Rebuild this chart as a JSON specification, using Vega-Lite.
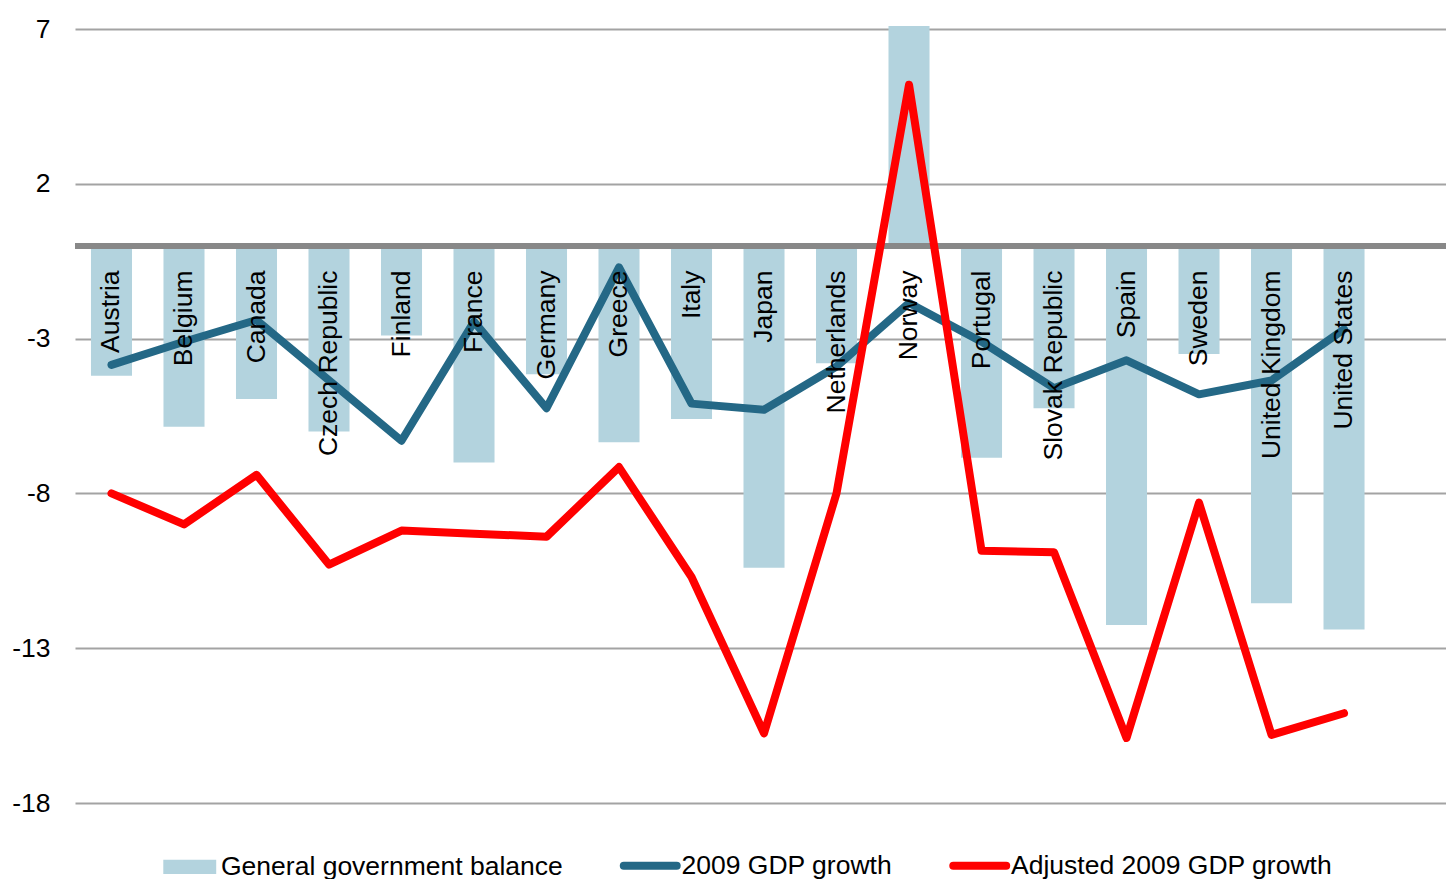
{
  "$schema": "https://vega.github.io/schema/vega-lite/v6.json",
  "width": 1371,
  "height": 774,
  "autosize": {"type": "none"},
  "padding": {"left": 75, "top": 29, "right": 0, "bottom": 76},
  "background": "white",
  "config": {"view": {"stroke": null}, "font": "Liberation Sans"},
  "data": {
    "values": [
      {"country": "Austria", "series": "General government balance", "value": -4.2},
      {"country": "Belgium", "series": "General government balance", "value": -5.85},
      {"country": "Canada", "series": "General government balance", "value": -4.95},
      {"country": "Czech Republic", "series": "General government balance", "value": -6.0},
      {"country": "Finland", "series": "General government balance", "value": -2.9},
      {"country": "France", "series": "General government balance", "value": -7.0},
      {"country": "Germany", "series": "General government balance", "value": -4.15},
      {"country": "Greece", "series": "General government balance", "value": -6.35},
      {"country": "Italy", "series": "General government balance", "value": -5.6},
      {"country": "Japan", "series": "General government balance", "value": -10.4},
      {"country": "Netherlands", "series": "General government balance", "value": -3.8},
      {"country": "Norway", "series": "General government balance", "value": 7.1},
      {"country": "Portugal", "series": "General government balance", "value": -6.85},
      {"country": "Slovak Republic", "series": "General government balance", "value": -5.25},
      {"country": "Spain", "series": "General government balance", "value": -12.25},
      {"country": "Sweden", "series": "General government balance", "value": -3.5},
      {"country": "United Kingdom", "series": "General government balance", "value": -11.55},
      {"country": "United States", "series": "General government balance", "value": -12.4},
      {"country": "Austria", "series": "2009 GDP growth", "value": -3.85},
      {"country": "Belgium", "series": "2009 GDP growth", "value": -3.1},
      {"country": "Canada", "series": "2009 GDP growth", "value": -2.4},
      {"country": "Czech Republic", "series": "2009 GDP growth", "value": -4.35},
      {"country": "Finland", "series": "2009 GDP growth", "value": -6.3},
      {"country": "France", "series": "2009 GDP growth", "value": -2.45},
      {"country": "Germany", "series": "2009 GDP growth", "value": -5.25},
      {"country": "Greece", "series": "2009 GDP growth", "value": -0.7},
      {"country": "Italy", "series": "2009 GDP growth", "value": -5.1},
      {"country": "Japan", "series": "2009 GDP growth", "value": -5.3},
      {"country": "Netherlands", "series": "2009 GDP growth", "value": -3.9},
      {"country": "Norway", "series": "2009 GDP growth", "value": -1.85},
      {"country": "Portugal", "series": "2009 GDP growth", "value": -3.1},
      {"country": "Slovak Republic", "series": "2009 GDP growth", "value": -4.6},
      {"country": "Spain", "series": "2009 GDP growth", "value": -3.7},
      {"country": "Sweden", "series": "2009 GDP growth", "value": -4.8},
      {"country": "United Kingdom", "series": "2009 GDP growth", "value": -4.35},
      {"country": "United States", "series": "2009 GDP growth", "value": -2.7},
      {"country": "Austria", "series": "Adjusted 2009 GDP growth", "value": -8.0},
      {"country": "Belgium", "series": "Adjusted 2009 GDP growth", "value": -9.0},
      {"country": "Canada", "series": "Adjusted 2009 GDP growth", "value": -7.4},
      {"country": "Czech Republic", "series": "Adjusted 2009 GDP growth", "value": -10.3},
      {"country": "Finland", "series": "Adjusted 2009 GDP growth", "value": -9.2},
      {"country": "France", "series": "Adjusted 2009 GDP growth", "value": -9.3},
      {"country": "Germany", "series": "Adjusted 2009 GDP growth", "value": -9.4},
      {"country": "Greece", "series": "Adjusted 2009 GDP growth", "value": -7.15},
      {"country": "Italy", "series": "Adjusted 2009 GDP growth", "value": -10.7},
      {"country": "Japan", "series": "Adjusted 2009 GDP growth", "value": -15.75},
      {"country": "Netherlands", "series": "Adjusted 2009 GDP growth", "value": -8.0},
      {"country": "Norway", "series": "Adjusted 2009 GDP growth", "value": 5.2},
      {"country": "Portugal", "series": "Adjusted 2009 GDP growth", "value": -9.85},
      {"country": "Slovak Republic", "series": "Adjusted 2009 GDP growth", "value": -9.9},
      {"country": "Spain", "series": "Adjusted 2009 GDP growth", "value": -15.9},
      {"country": "Sweden", "series": "Adjusted 2009 GDP growth", "value": -8.3},
      {"country": "United Kingdom", "series": "Adjusted 2009 GDP growth", "value": -15.8},
      {"country": "United States", "series": "Adjusted 2009 GDP growth", "value": -15.1}
    ]
  },
  "encoding": {
    "x": {
      "field": "country",
      "type": "nominal",
      "sort": null,
      "axis": null,
      "scale": {"paddingInner": 0.434, "paddingOuter": 0.672, "align": 0.164}
    }
  },
  "layer": [
    {
      "transform": [{"filter": "datum.series === 'General government balance'"}],
      "mark": {"type": "bar"},
      "encoding": {
        "y": {
          "field": "value",
          "type": "quantitative",
          "scale": {"domain": [-18, 7], "nice": false, "zero": false},
          "axis": {
            "title": null,
            "values": [-18, -13, -8, -3, 2, 7],
            "labelExpr": "replace(datum.label, '\u2212', '-')",
            "domain": false,
            "ticks": false,
            "labelFontSize": 26.5,
            "labelColor": "#000000",
            "labelFont": "Liberation Sans",
            "labelPadding": 25,
            "grid": true,
            "gridColor": "#a3a3a3",
            "gridWidth": 2
          }
        },
        "color": {
          "field": "series",
          "type": "nominal",
          "scale": {
            "domain": ["General government balance", "2009 GDP growth", "Adjusted 2009 GDP growth"],
            "range": ["#b3d3de", "#246886", "#ff0000"]
          },
          "legend": {
            "title": null,
            "orient": "none",
            "legendX": 101.5,
            "legendY": 823,
            "direction": "horizontal",
            "columns": 3,
            "padding": 0,
            "labelFontSize": 26.5,
            "labelFont": "Liberation Sans",
            "labelColor": "#000000",
            "labelLimit": 800,
            "labelOffset": 18,
            "columnPadding": 43.5,
            "symbolSize": 2800,
            "encode": {
              "symbols": {
                "update": {
                  "shape": {"signal": "datum.value === 'General government balance' ? 'M-1,-0.265L1,-0.265L1,0.265L-1,0.265Z' : 'stroke'"},
                  "fill": {"signal": "datum.value === 'General government balance' ? '#b3d3de' : 'transparent'"},
                  "stroke": {"signal": "datum.value === 'General government balance' ? 'transparent' : (datum.value === '2009 GDP growth' ? '#246886' : '#ff0000')"},
                  "strokeWidth": {"signal": "datum.value === 'General government balance' ? 0 : 8"},
                  "strokeCap": {"value": "round"},
                  "opacity": {"value": 1}
                }
              }
            }
          }
        }
      }
    },
    {
      "mark": {"type": "rule", "color": "#888888", "strokeWidth": 5},
      "encoding": {"y": {"datum": 0, "type": "quantitative"}, "x": null}
    },
    {
      "transform": [{"filter": "datum.series === '2009 GDP growth'"}],
      "mark": {"type": "line", "strokeWidth": 8, "strokeCap": "round", "strokeJoin": "round"},
      "encoding": {
        "y": {"field": "value", "type": "quantitative"},
        "color": {"field": "series", "type": "nominal"}
      }
    },
    {
      "transform": [{"filter": "datum.series === 'Adjusted 2009 GDP growth'"}],
      "mark": {"type": "line", "strokeWidth": 8, "strokeCap": "round", "strokeJoin": "round"},
      "encoding": {
        "y": {"field": "value", "type": "quantitative"},
        "color": {"field": "series", "type": "nominal"}
      }
    },
    {
      "transform": [{"filter": "datum.series === 'General government balance'"}],
      "mark": {"type": "text", "angle": 270, "align": "right", "baseline": "middle", "fontSize": 26.5, "font": "Liberation Sans", "color": "#000000"},
      "encoding": {
        "y": {"datum": -0.8, "type": "quantitative"},
        "text": {"field": "country"}
      }
    }
  ]
}
